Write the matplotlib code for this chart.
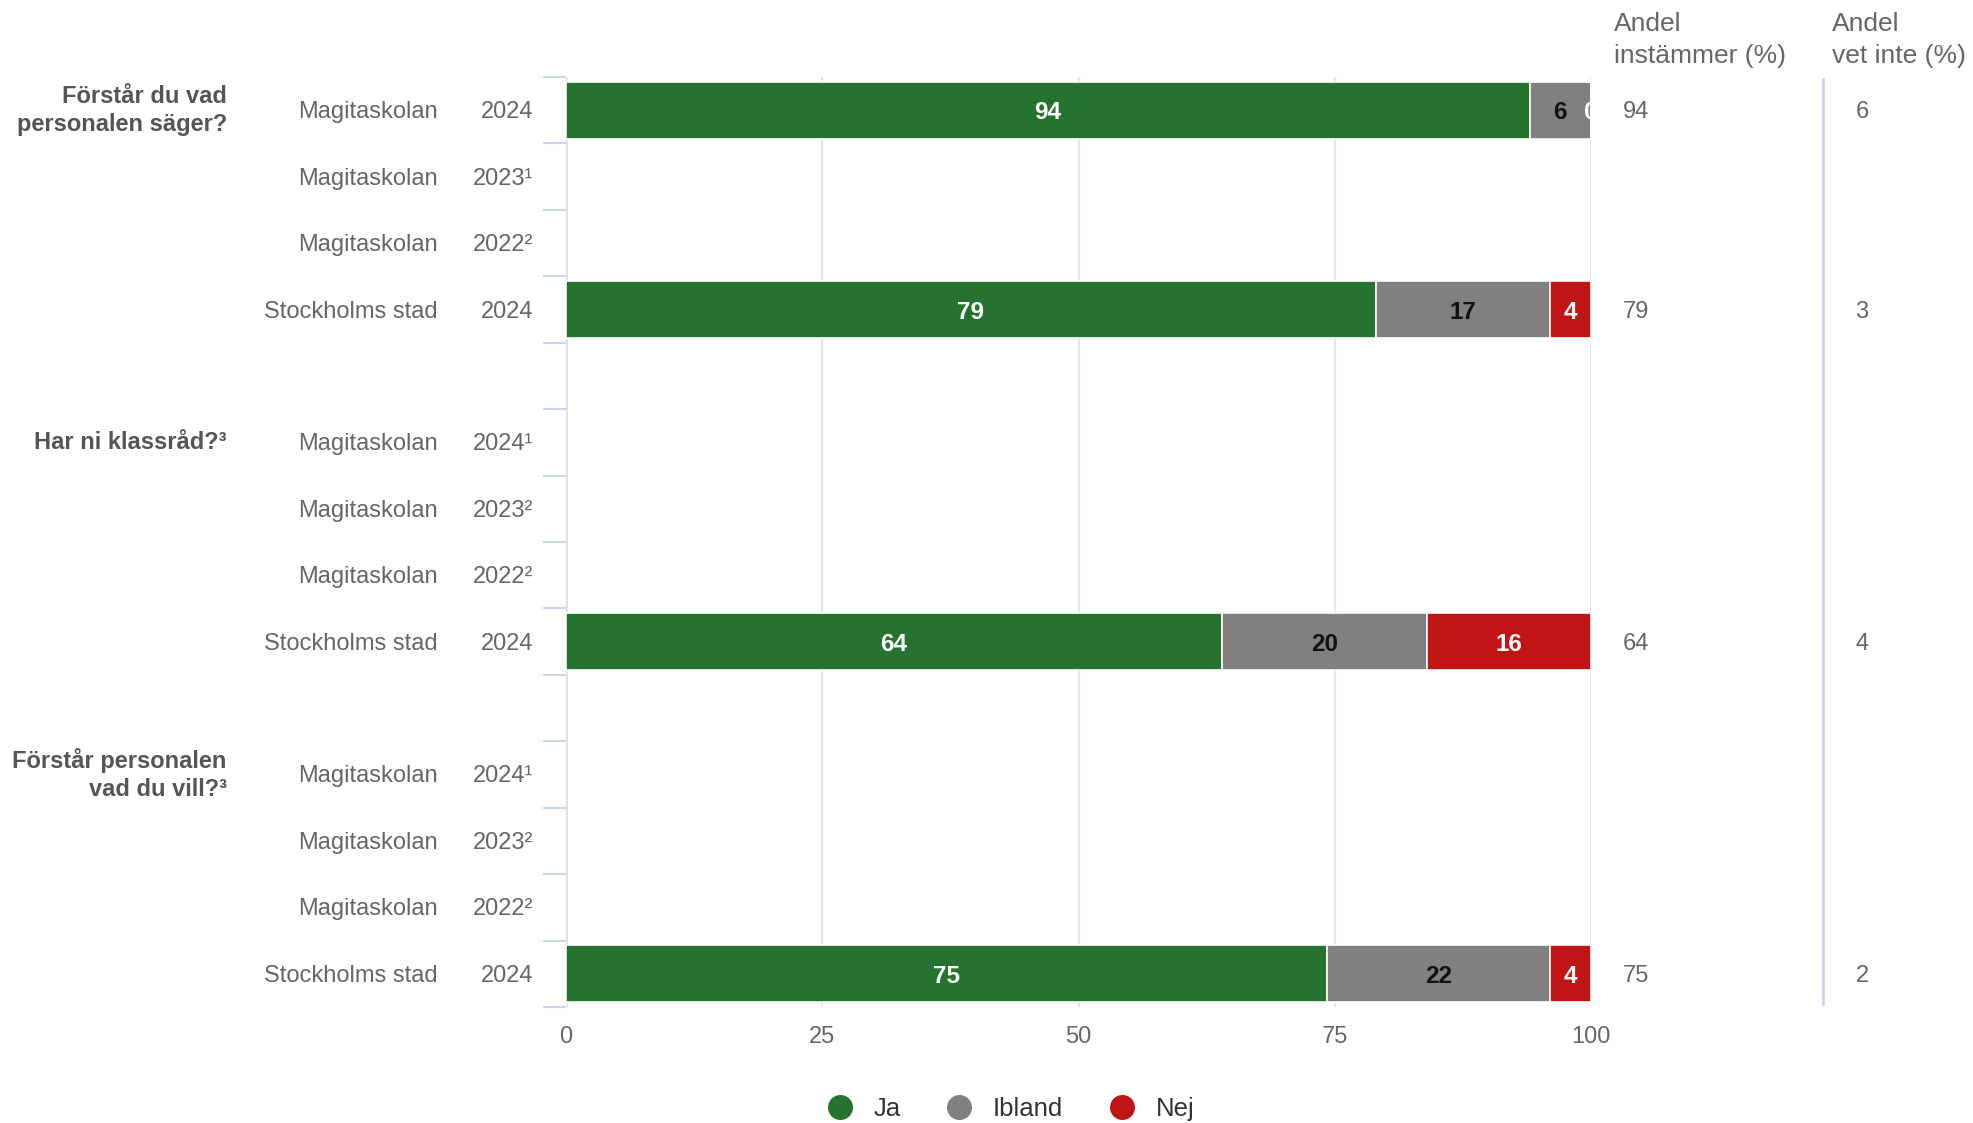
import numpy as np
from matplotlib import pyplot as plt
from matplotlib.lines import Line2D
from matplotlib.ticker import FixedLocator

plt.rcParams['font.family'] = ['Liberation Sans', 'DejaVu Sans']

questions = ['Förstår du vad\npersonalen säger?', 'Har ni klassråd?³', 'Förstår personalen\nvad du vill?³']
schools = ['Magitaskolan', 'Magitaskolan', 'Magitaskolan', 'Stockholms stad']
years = [['2024', '2023¹', '2022²', '2024'],
         ['2024¹', '2023²', '2022²', '2024'],
         ['2024¹', '2023²', '2022²', '2024']]

# one entry per row, None = no data
ja = [94, None, None, 79, None, None, None, 64, None, None, None, 75]
ibland = [6, None, None, 17, None, None, None, 20, None, None, None, 22]
nej = [0, None, None, 4, None, None, None, 16, None, None, None, 4]
instammer = [94, None, None, 79, None, None, None, 64, None, None, None, 75]
vet_inte = [6, None, None, 3, None, None, None, 4, None, None, None, 2]

series = ['Ja', 'Ibland', 'Nej']
colors = ['#267330', '#808080', '#bf1515']
label_colors = ['white', '#111111', 'white']

txt = '#666666'

fig = plt.figure(figsize=(19.73, 11.23), dpi=100)
ax = fig.add_axes([0.2869, 0.1033, 0.5195, 0.8281])

# row slots: 4 rows per question, one empty slot between questions
slots = []
for g in range(3):
    for r in range(4):
        slots.append(g * 5 + r)

for i, s in enumerate(slots):
    if ja[i] is None:
        continue
    vals = [ja[i], ibland[i], nej[i]]
    tot = sum(vals)
    left = 0
    for k, v in enumerate(vals):
        w = v / tot * 100
        ax.barh(s, w, left=left, height=0.86, color=colors[k],
                edgecolor='white', linewidth=1.2, zorder=3)
        ax.text(left + w / 2, s + 0.04, str(v), ha='center', va='center',
                fontsize=17.5, fontweight='bold', color=label_colors[k],
                zorder=4, clip_on=True)
        left += w

ax.set_xlim(0, 100)
ax.set_ylim(13.5, -0.5)
ax.set_xticks([0, 25, 50, 75, 100])
ax.tick_params(axis='x', length=0, labelsize=17, labelcolor=txt, pad=14)
ax.xaxis.grid(True, color='#e6e6e6', linewidth=1.6, zorder=0)
ax.set_axisbelow(True)
for sp in ax.spines.values():
    sp.set_visible(False)
ax.axvline(0, color='#e0e0e0', linewidth=2, zorder=1)

ax.set_yticks([])
ax.yaxis.set_minor_locator(FixedLocator(np.arange(-0.5, 14, 1)))
ax.tick_params(axis='y', which='minor', length=16.5, width=1.5, color='#ccd6eb')

ytr = ax.get_yaxis_transform()
for i, s in enumerate(slots):
    g, r = divmod(i, 4)
    ax.text(-0.125, s + 0.03, schools[r], transform=ytr, ha='right', va='center',
            fontsize=17, color=txt)
    ax.text(-0.032, s + 0.03, years[g][r], transform=ytr, ha='right', va='center',
            fontsize=17, color=txt)
    if instammer[i] is not None:
        ax.text(1.031, s + 0.03, str(instammer[i]), transform=ytr, ha='left',
                va='center', fontsize=17, color=txt)
        ax.text(1.258, s + 0.03, str(vet_inte[i]), transform=ytr, ha='left',
                va='center', fontsize=17, color=txt)

for g, q in enumerate(questions):
    ax.text(-0.331, g * 5, q, transform=ytr, ha='right', va='center',
            fontsize=17, fontweight='bold', color='#555555', linespacing=1.3)

# right-hand columns
ax.text(1.0224, 1.04, 'Andel\ninstämmer (%)', transform=ax.transAxes,
        ha='left', va='center', fontsize=19, color=txt, linespacing=1.4)
ax.text(1.235, 1.04, 'Andel\nvet inte (%)', transform=ax.transAxes,
        ha='left', va='center', fontsize=19, color=txt, linespacing=1.4)
ax.plot([1.2263, 1.2263], [0.003, 0.998], transform=ax.transAxes,
        color='#ccd6eb', linewidth=2, clip_on=False)

handles = [Line2D([], [], marker='o', linestyle='none', markersize=17,
                  markerfacecolor=c, markeredgecolor=c) for c in colors]
leg = fig.legend(handles, series, loc='center', bbox_to_anchor=(0.509, 0.0125),
                 ncol=3, frameon=False, fontsize=18.5, handletextpad=0.3,
                 columnspacing=1.3, borderpad=0)
for t in leg.get_texts():
    t.set_color('#333333')

fig.savefig('out.png', dpi=100)
